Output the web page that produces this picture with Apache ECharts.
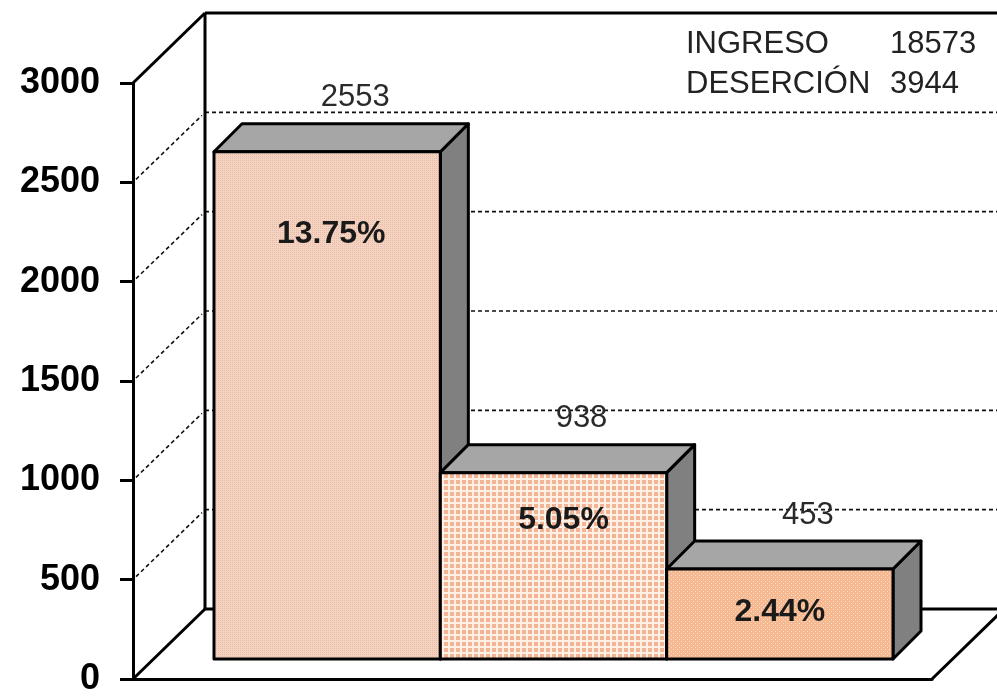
<!DOCTYPE html>
<html lang="es">
<head>
    <meta charset="UTF-8">
    <title>Deserción</title>
    <script src="https://cdn.jsdelivr.net/npm/echarts@6/dist/echarts.min.js"></script>
    <style>
        html, body { margin: 0; padding: 0; background: #fff; }
    </style>
</head>
<body>
    <div id="echarts" style="width: 997px; height: 699px;"></div>
    <script>
        // datos
        const categorias = ['1', '2', '3'];
        const desercion = [2553, 938, 453];
        const porcentajes = ['13.75%', '5.05%', '2.44%'];
        const ticksY = [0, 500, 1000, 1500, 2000, 2500, 3000];
        const ingreso = 18573;
        const totalDesercion = 3944;

        const FONT = "'Liberation Sans', Arial, sans-serif";
        const DX = 72, DY = -70;          // profundidad de las paredes
        const BX = 20, BY = -20;          // cara frontal de las barras
        const BDX = 28, BDY = -28;        // profundidad de las barras
        const pctShift = [[4, 82], [10, 48], [0, 43]]; // posición de los porcentajes

        // tramas de relleno
        function makePattern(size, draw) {
            const c = document.createElement('canvas');
            c.width = size; c.height = size;
            draw(c.getContext('2d'));
            return { image: c, repeat: 'repeat' };
        }
        const tramas = [
            makePattern(4, ctx => {
                ctx.fillStyle = '#f5d3c3'; ctx.fillRect(0, 0, 4, 4);
                ctx.fillStyle = '#e8bba4';
                ctx.fillRect(0, 0, 1, 1); ctx.fillRect(2, 2, 1, 1);
                ctx.fillRect(2, 0, 1, 1); ctx.fillRect(0, 2, 1, 1);
            }),
            makePattern(6, ctx => {
                ctx.fillStyle = '#fff0e6'; ctx.fillRect(0, 0, 6, 6);
                ctx.fillStyle = '#f3b495'; ctx.fillRect(0, 0, 4, 4);
            }),
            makePattern(4, ctx => {
                ctx.fillStyle = '#f6b890'; ctx.fillRect(0, 0, 4, 4);
                ctx.fillStyle = '#fde0c8';
                ctx.fillRect(1, 1, 1, 1); ctx.fillRect(3, 3, 1, 1);
            })
        ];

        const myChart = echarts.init(document.querySelector('#echarts'));

        function seg(x1, y1, x2, y2, dashed) {
            return {
                type: 'line',
                shape: { x1: x1, y1: y1, x2: x2, y2: y2 },
                style: dashed
                    ? { stroke: '#111', lineWidth: 1.6, lineDash: [4, 3] }
                    : { stroke: '#000', lineWidth: 3 }
            };
        }

        // marco 3D: paredes, suelo y líneas de división
        function renderMarco(params, api) {
            const cs = params.coordSys;
            const v = api.value(1);
            const y = api.coord([0, v])[1];
            const x0 = cs.x, x1 = cs.x + cs.width;
            const children = [];
            if (v === 0) {
                children.push(seg(x0, y, x0 + DX, y + DY));
                children.push(seg(x0 + DX, y + DY, x1 + DX, y + DY));
                children.push(seg(x1, y, x1 + DX, y + DY));
            } else if (v === ticksY[ticksY.length - 1]) {
                const yFloor = api.coord([0, 0])[1];
                children.push(seg(x0, y, x0 + DX, y + DY));
                children.push(seg(x0 + DX, y + DY, x1 + DX, y + DY));
                children.push(seg(x0 + DX, y + DY, x0 + DX, yFloor + DY));
                children.push(seg(x1 + DX, y + DY, x1 + DX, yFloor + DY));
            } else {
                children.push(seg(x0 + 3, y - 3, x0 + DX - 3, y + DY + 3, true));
                children.push(seg(x0 + DX, y + DY, x1 + DX, y + DY, true));
            }
            return { type: 'group', children: children };
        }

        // barras 3D
        function renderBarra(params, api) {
            const i = api.value(0);
            const v = api.value(1);
            const base = api.coord([i, 0]);
            const tope = api.coord([i, v]);
            const w = api.size([1, 0])[0];
            const l = base[0] - w / 2 + BX, r = l + w;
            const b = base[1] + BY, t = tope[1] + BY;
            const borde = { stroke: '#000', lineWidth: 3, lineJoin: 'round' };
            const cxBack = (l + r) / 2 + BDX;
            return {
                type: 'group',
                children: [
                    {
                        type: 'polygon',
                        shape: { points: [[r, t], [r + BDX, t + BDY], [r + BDX, b + BDY], [r, b]] },
                        style: Object.assign({ fill: '#808080' }, borde)
                    },
                    {
                        type: 'polygon',
                        shape: { points: [[l, t], [l + BDX, t + BDY], [r + BDX, t + BDY], [r, t]] },
                        style: Object.assign({ fill: '#a6a6a6' }, borde)
                    },
                    {
                        type: 'rect',
                        shape: { x: l, y: t, width: w, height: b - t },
                        style: Object.assign({ fill: tramas[i] }, borde)
                    },
                    {
                        type: 'text',
                        x: cxBack, y: t + BDY - 26,
                        style: {
                            text: String(v), fill: '#2a2a2a', font: '31px ' + FONT,
                            align: 'center', verticalAlign: 'middle'
                        }
                    },
                    {
                        type: 'text',
                        x: (l + r) / 2 + pctShift[i][0], y: t + pctShift[i][1],
                        style: {
                            text: porcentajes[i], fill: '#1a1a1a', font: 'bold 32px ' + FONT,
                            align: 'center', verticalAlign: 'middle'
                        }
                    }
                ]
            };
        }

        const option = {
            animation: false,
            title: {
                left: 686,
                top: 24,
                padding: 0,
                text: '{a|INGRESO}{b|' + ingreso + '}\n{a|DESERCIÓN}{b|' + totalDesercion + '}',
                textStyle: {
                    fontWeight: 'normal',
                    rich: {
                        a: { width: 204, fontSize: 31, lineHeight: 40, fontFamily: FONT, fontWeight: 'normal', color: '#222' },
                        b: { fontSize: 31, lineHeight: 40, fontFamily: FONT, fontWeight: 'normal', color: '#222' }
                    }
                }
            },
            grid: [
                { left: 133, right: 65, top: 83, bottom: 20 },
                { left: 194, width: 679, top: 83, bottom: 20 }
            ],
            xAxis: [
                {
                    gridIndex: 0, type: 'category', data: categorias,
                    axisLine: { show: true, lineStyle: { color: '#000', width: 3 } },
                    axisTick: { show: false }, axisLabel: { show: false }
                },
                {
                    gridIndex: 1, type: 'category', data: categorias, show: false
                }
            ],
            yAxis: [
                {
                    gridIndex: 0, type: 'value', min: 0, max: 3000, interval: 500,
                    axisLine: { show: true, lineStyle: { color: '#000', width: 3 } },
                    axisTick: { show: true, length: 13, lineStyle: { color: '#000', width: 3 } },
                    axisLabel: {
                        fontSize: 36, fontWeight: 'bold', fontFamily: FONT, color: '#000', margin: 33,
                        formatter: v => String(v)
                    },
                    splitLine: { show: false }
                },
                {
                    gridIndex: 1, type: 'value', min: 0, max: 3000, interval: 500, show: false,
                    splitLine: { show: false }
                }
            ],
            series: [
                {
                    type: 'custom',
                    xAxisIndex: 0, yAxisIndex: 0,
                    data: ticksY.map(v => [0, v]),
                    renderItem: renderMarco,
                    silent: true, z: 1
                },
                {
                    type: 'custom',
                    xAxisIndex: 1, yAxisIndex: 1,
                    data: desercion.map((v, i) => [i, v]),
                    renderItem: renderBarra,
                    z: 2
                }
            ]
        };
        myChart.setOption(option);
    </script>
</body>
</html>
